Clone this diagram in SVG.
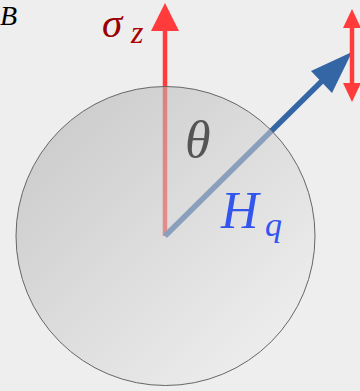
<svg xmlns="http://www.w3.org/2000/svg" width="360" height="391" viewBox="0 0 360 391">
  <style>
    .math { font-family: "Liberation Serif", "DejaVu Serif", serif; font-style: italic; }
    .red { fill: #ff3b3b; }
    .redline { stroke: #ff3b3b; stroke-width: 4.5; fill: none; }
    .blueline { stroke: #3465a4; stroke-width: 5.5; fill: none; }
  </style>
  <defs>
    <linearGradient id="sphereGrad" x1="0" y1="0" x2="1" y2="1">
      <stop offset="0" stop-color="#a8a8a8"/>
      <stop offset="1" stop-color="#f6f6f6"/>
    </linearGradient>
  </defs>
  <rect width="360" height="391" fill="#eeeeee"/>

  <g id="connectors">
    <g id="sigma-z-axis">
      <line class="redline" x1="165" y1="236" x2="165" y2="29"/>
      <polygon class="red" points="165,3 151,31 179,31"/>
    </g>
    <g id="hq-vector">
      <line class="blueline" x1="165" y1="236" x2="323" y2="80"/>
      <polygon fill="#3465a4" points="352,52 311,71 332,93"/>
    </g>
    <g id="precession">
      <line class="redline" x1="352" y1="26" x2="352" y2="85"/>
      <polygon class="red" points="352,9 343,28 361,28"/>
      <polygon class="red" points="352,102 343,83 361,83"/>
    </g>
  </g>

  <g id="sphere">
    <circle cx="165.5" cy="236" r="149.5" fill="url(#sphereGrad)" fill-opacity="0.55" stroke="#666666" stroke-width="1"/>
  </g>

  <g id="labels">
    <text class="math" x="0" y="25" font-size="28" fill="#000000">B</text>
    <text class="math" x="102" y="37" font-size="41" fill="#990000">σ</text>
    <text class="math" x="131" y="43" font-size="32" fill="#aa0000">z</text>
    <text class="math" x="185" y="157" font-size="52" fill="#555555">θ</text>
    <text class="math" x="221" y="228" font-size="52" fill="#3355ee">H</text>
    <text class="math" x="265" y="236" font-size="34" fill="#3355ee">q</text>
  </g>
</svg>
